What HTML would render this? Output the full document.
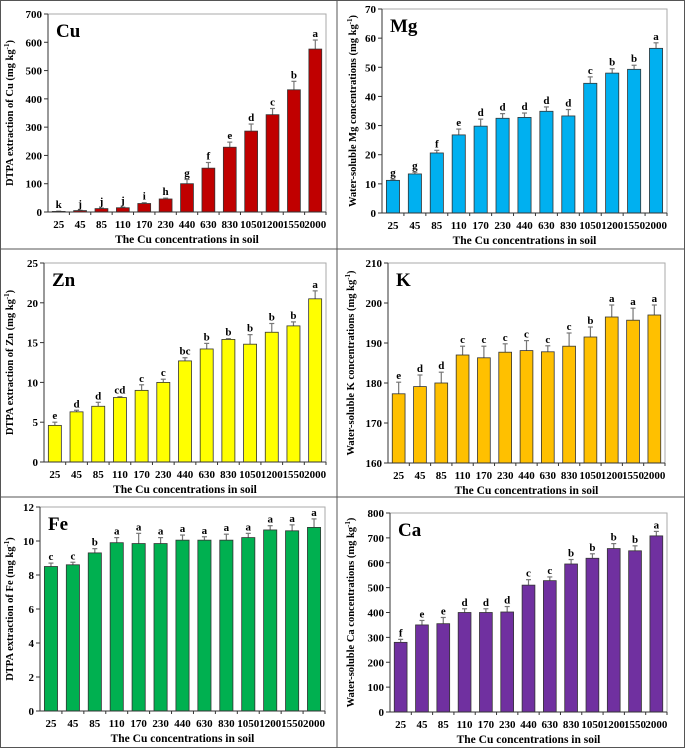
<!DOCTYPE html>
<html><head><meta charset="utf-8"><style>
html,body{margin:0;padding:0;background:#fff}
svg{display:block;font-family:"Liberation Serif",serif;font-weight:bold}
</style></head><body>
<svg id="fig" width="685" height="748" viewBox="0 0 685 748">
<rect x="0.5" y="0.5" width="684" height="747" fill="none" stroke="#555"/>
<line x1="337" y1="0" x2="337" y2="748" stroke="#555"/>
<line x1="0" y1="249" x2="685" y2="249" stroke="#555"/>
<line x1="0" y1="497" x2="685" y2="497" stroke="#555"/>
</svg>
<script>
const categories = ["25","45","85","110","170","230","440","630","830","1050","1200","1550","2000"];
const cuValues = [2,5,12,15,30,46,100,155,229,286,344,432,576];
const cuErrors = [1,1,2,2,3,3,15,20,18,25,22,30,32];
const cuLetters = ["k","j","j","j","i","h","g","f","e","d","c","b","a"];
const cuTicks = [0,100,200,300,400,500,600,700];
const mgValues = [11.2,13.4,20.6,26.8,29.8,32.5,32.8,34.9,33.3,44.5,48,49.3,56.5];
const mgErrors = [0.4,0.6,0.9,2,2.4,1.6,1.5,1.5,2.2,2.2,1.5,1.4,1.9];
const mgLetters = ["g","g","f","e","d","d","d","d","d","c","b","b","a"];
const mgTicks = [0,10,20,30,40,50,60,70];
const znValues = [4.6,6.3,7,8.1,9,10,12.7,14.2,15.4,14.8,16.3,17.1,20.5];
const znErrors = [0.4,0.2,0.5,0.1,0.7,0.4,0.4,0.7,0.1,1.2,1.1,0.5,1];
const znLetters = ["e","d","d","cd","c","c","bc","b","b","b","b","b","a"];
const znTicks = [0,5,10,15,20,25];
const kValues = [177.3,179.1,180,187,186.3,187.7,188.1,187.8,189.2,191.5,196.5,195.7,197];
const kErrors = [2.9,2.9,2.7,2.2,2.9,2.1,2.5,1.5,3.3,2.5,3,3,2.5];
const kLetters = ["e","d","d","c","c","c","c","c","c","b","a","a","a"];
const kTicks = [160,170,180,190,200,210];
const feValues = [8.5,8.6,9.3,9.9,9.85,9.85,10.05,10.05,10.05,10.2,10.65,10.6,10.8];
const feErrors = [0.2,0.15,0.25,0.3,0.6,0.35,0.3,0.2,0.35,0.25,0.25,0.35,0.5];
const feLetters = ["c","c","b","a","a","a","a","a","a","a","a","a","a"];
const feTicks = [0,2,4,6,8,10,12];
const caValues = [280,350,355,400,400,402,510,528,595,618,657,648,708];
const caErrors = [12,18,25,15,15,22,22,15,18,18,20,20,18];
const caLetters = ["f","e","e","d","d","d","c","c","b","b","b","b","a"];
const caTicks = [0,100,200,300,400,500,600,700,800];

const NS = "http://www.w3.org/2000/svg";
const svg = document.getElementById("fig");
function mk(tag, attrs, parent, text){
  const e = document.createElementNS(NS, tag);
  for (const k in attrs) e.setAttribute(k, attrs[k]);
  if (text !== undefined) e.textContent = text;
  (parent||svg).appendChild(e);
  return e;
}

function panel(p){
  const g = mk("g", {});
  
  
  const min = p.ticks[0], max = p.ticks[p.ticks.length-1];
  const yS = v => p.bottom - (v-min)/(max-min)*(p.bottom-p.top);
  const n = categories.length;
  const step = (p.right - p.left)/n;
  const xS = i => p.left + step*(i+0.5);
  const bw = step*0.6;
  // frame
  const fr = mk("rect", {x:p.left, y:p.top, width:p.right-p.left, height:p.bottom-p.top, fill:"none", stroke:"#aaa", "stroke-width":1}, g);
  
  
  // y ticks
  p.ticks.forEach(t => {
    const y = yS(t);
    mk("line", {x1:p.left-4, y1:y, x2:p.left, y2:y, stroke:"#333"}, g);
    const tl = mk("text", {x:p.left-6, y:y+4, "text-anchor":"end", "font-size":11}, g, String(t));
    
    
  });
  // bars
  p.values.forEach((v,i) => {
    const x = xS(i), y = yS(v);
    const top = yS(v + p.errors[i]);
    mk("line", {x1:x, y1:y, x2:x, y2:top, stroke:"#777", "stroke-width":1.2}, g);
    mk("line", {x1:x-2.5, y1:top, x2:x+2.5, y2:top, stroke:"#777", "stroke-width":1.2}, g);
    const b = mk("rect", {x:x-bw/2, y:y, width:bw, height:p.bottom-y, fill:p.color, stroke:"#333", "stroke-width":0.8}, g);
    
    
    const l = mk("text", {x:x, y:top-3, "text-anchor":"middle", "font-size":11}, g, p.letters[i]);
    
    
    mk("line", {x1:p.left+step*(i+1), y1:p.bottom, x2:p.left+step*(i+1), y2:p.bottom+3, stroke:"#333"}, g);
    const xl = mk("text", {x:x, y:p.bottom+16, "text-anchor":"middle", "font-size":11}, g, categories[i]);
    
    
  });
  // axes
  mk("line", {x1:p.left, y1:p.top, x2:p.left, y2:p.bottom, stroke:"#333"}, g);
  mk("line", {x1:p.left, y1:p.bottom, x2:p.right, y2:p.bottom, stroke:"#333"}, g);
  const xt = mk("text", {x:(p.left+p.right)/2, y:p.bottom+31, "text-anchor":"middle", "font-size":11.5}, g, "The Cu concentrations in soil");
  
  
  const cy = (p.top+p.bottom)/2;
  const yt = mk("text", {x:0, y:0, "text-anchor":"middle", "font-size":10.5, transform:`translate(${p.ytx},${cy}) rotate(-90)`}, g);
  
  
  mk("tspan", {}, yt, p.ytitle + " (mg kg");
  mk("tspan", {dy:-4, "font-size":7}, yt, "-1");
  mk("tspan", {dy:4}, yt, ")");
  const lab = mk("text", {x:p.left+8, y:p.top+23, "font-size":19}, g, p.label);
  
  
}

panel({id:"cu", label:"Cu", values:cuValues, errors:cuErrors, letters:cuLetters, ticks:cuTicks, color:"#c00000", left:48, right:326, top:14, bottom:212, ytx:13, ytitle:"DTPA extraction of Cu"});
panel({id:"mg", label:"Mg", values:mgValues, errors:mgErrors, letters:mgLetters, ticks:mgTicks, color:"#00b0f0", left:382, right:667, top:9, bottom:213, ytx:356, ytitle:"Water-soluble Mg concentrations"});
panel({id:"zn", label:"Zn", values:znValues, errors:znErrors, letters:znLetters, ticks:znTicks, color:"#ffff00", left:44, right:326, top:263, bottom:462, ytx:13, ytitle:"DTPA extraction of Zn"});
panel({id:"k", label:"K", values:kValues, errors:kErrors, letters:kLetters, ticks:kTicks, color:"#ffc000", left:388, right:665, top:263, bottom:463, ytx:354, ytitle:"Water-soluble K concentrations"});
panel({id:"fe", label:"Fe", values:feValues, errors:feErrors, letters:feLetters, ticks:feTicks, color:"#00b050", left:40, right:325, top:507, bottom:711, ytx:13, ytitle:"DTPA extraction of Fe"});
panel({id:"ca", label:"Ca", values:caValues, errors:caErrors, letters:caLetters, ticks:caTicks, color:"#7030a0", left:390, right:667, top:513, bottom:712, ytx:354, ytitle:"Water-soluble Ca concentrations"});
</script>
</body></html>
